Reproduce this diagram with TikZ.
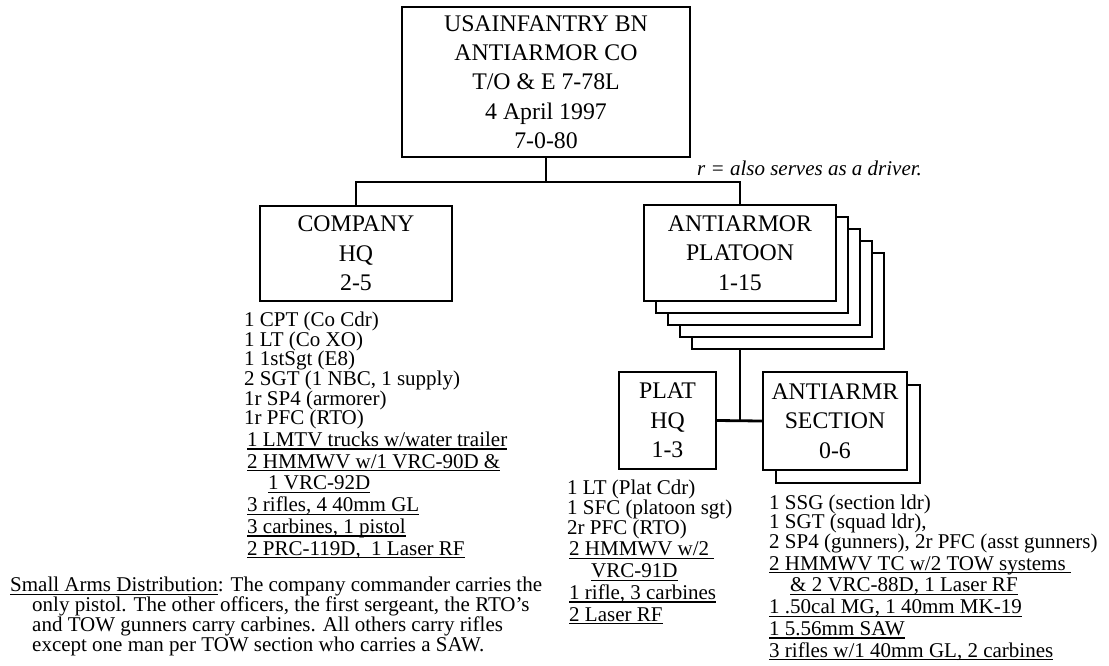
\documentclass[tikz,border=0pt]{standalone}
\usepackage{fontspec}
\setmainfont{Liberation Serif}
\usetikzlibrary{calc}
\newcommand{\ulbar}[1]{\setbox0\hbox{#1}\rlap{\rule[-3.2pt]{\wd0}{1.3pt}}\box0}
\newcommand{\bigsize}{\fontsize{23.8}{29.3}\selectfont}
\newcommand{\smallsize}{\fontsize{21}{19.7}\selectfont}

\begin{document}
\begin{tikzpicture}[x=1pt,y=-1pt,
  unitbox/.style={draw,line width=2pt,fill=white,inner sep=0pt,align=center,font=\bigsize},
  unitframe/.style={draw,line width=2pt,fill=white},
  wire/.style={line width=2.8pt},
  roster/.style={anchor=base west,align=left,inner sep=0pt,font=\smallsize}]

\useasboundingbox (0,0) rectangle (1109,665);

% ---------------- battalion box ----------------
\node[unitbox,minimum width=288pt,minimum height=150pt] (bn) at (546,82)
  {USAINFANTRY BN\\ANTIARMOR CO\\T/O \& E 7-78L\\4 April 1997\\7-0-80};
\node[font=\smallsize\itshape,anchor=base west,inner sep=0pt] (note) at (697,175)
  {r = also serves as a driver.};

% ---------------- company HQ ----------------
\node[unitbox,minimum width=192pt,minimum height=95pt] (cohq) at (356,253.5)
  {COMPANY\\HQ\\2-5};

% ---------------- platoon stack ----------------
\foreach \k in {4,3,2,1}{
  \draw[unitframe] (644+\k*12,205+\k*12) rectangle ++(192,96);
}
\node[unitbox,minimum width=192pt,minimum height=96pt] (plt) at (740,253)
  {ANTIARMOR\\PLATOON\\1-15};
\coordinate (pltbot) at (740,349);

% wires from the battalion box
\draw[wire] (bn.south) -- ++(0,24) coordinate (fork) -| (cohq.north);
\draw[wire] (fork) -| (plt.north);

% ---------------- platoon HQ and section ----------------
\draw[unitframe] (776,385) rectangle ++(144,98);
\node[unitbox,minimum width=97pt,minimum height=97pt] (phq) at (667.5,420.5)
  {PLAT\\HQ\\1-3};
\node[unitbox,minimum width=144pt,minimum height=98pt] (sec) at (835,421)
  {ANTIARMR\\SECTION\\0-6};
\draw[wire] (phq.east) -- (sec.west);
\draw[wire] (pltbot) -- (pltbot |- phq.east);

% ---------------- rosters (anchored on the last line) ----------------
\node[roster] (colist) at (244,555)
  {1 CPT (Co Cdr)\\1 LT (Co XO)\\1 1stSgt (E8)\\2 SGT (1 NBC, 1 supply)\\
   1r SP4 (armorer)\\1r PFC (RTO)\\[2pt]
   \hspace*{3pt}\ulbar{1 LMTV trucks w/water trailer}\\[2pt]
   \hspace*{3pt}\ulbar{2 HMMWV w/1 VRC-90D \&}\\[2pt]
   \hspace*{24pt}\ulbar{1 VRC-92D}\\[2pt]
   \hspace*{3pt}\ulbar{3 rifles, 4 40mm GL}\\[2pt]
   \hspace*{3pt}\ulbar{3 carbines, 1 pistol}\\[2pt]
   \hspace*{3pt}\ulbar{2 PRC-119D,\ \ 1 Laser RF}};

\node[roster] (phqlist) at (567,621)
  {1 LT (Plat Cdr)\\1 SFC (platoon sgt)\\2r PFC (RTO)\\[2pt]
   \hspace*{2pt}\ulbar{2 HMMWV w/2\ }\\[2pt]
   \hspace*{24pt}\ulbar{VRC-91D}\\[2pt]
   \hspace*{2pt}\ulbar{1 rifle, 3 carbines}\\[2pt]
   \hspace*{2pt}\ulbar{2 Laser RF}};

\node[roster] (seclist) at (769,657)
  {1 SSG (section ldr)\\1 SGT (squad ldr),\\2 SP4 (gunners), 2r PFC (asst gunners)\\[2pt]
   \ulbar{2 HMMWV TC w/2 TOW systems\ }\\[2pt]
   \hspace*{21pt}\ulbar{\& 2 VRC-88D, 1 Laser RF}\\[2pt]
   \ulbar{1 .50cal MG, 1 40mm MK-19}\\[2pt]
   \ulbar{1 5.56mm SAW}\\[2pt]
   \ulbar{3 rifles w/1 40mm GL, 2 carbines}};

% ---------------- small arms note ----------------
\node[roster] (arms) at (10,651)
  {\ulbar{Small Arms Distribution}: The company commander carries the\\
   \hspace*{22pt}only pistol. The other officers, the first sergeant, the RTO’s\\
   \hspace*{22pt}and TOW gunners carry carbines. All others carry rifles\\
   \hspace*{22pt}except one man per TOW section who carries a SAW.};

\end{tikzpicture}
\end{document}
